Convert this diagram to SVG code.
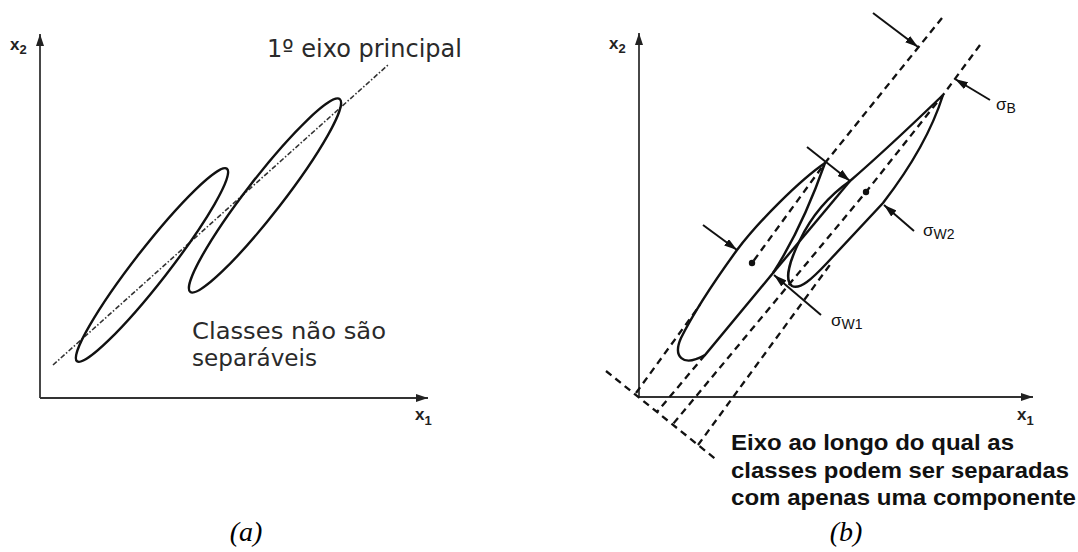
<svg xmlns="http://www.w3.org/2000/svg" width="1078" height="552" viewBox="0 0 1078 552">
<defs>
<style>
.ax{stroke:#333;stroke-width:1.8;fill:none}
.el{stroke:#111;stroke-width:2.4;fill:none}
.dsa{stroke:#333;stroke-width:1.6;fill:none;stroke-dasharray:5 2 1.5 2}
.dsb{stroke:#111;stroke-width:2.3;fill:none;stroke-dasharray:7 5}
.arr{stroke:#111;stroke-width:2;fill:none}
.lbl{font-family:"Liberation Sans",Arial,sans-serif;font-weight:bold;fill:#222}
.sig{font-family:"Liberation Sans",Arial,sans-serif;fill:#111}
.txa{font-family:"DejaVu Sans",Verdana,sans-serif;fill:#2a2a2a;font-size:25px}
.txn{font-family:"DejaVu Sans",Verdana,sans-serif;fill:#2a2a2a;font-size:23px}
.txb{font-family:"Liberation Sans",Arial,sans-serif;font-weight:bold;fill:#111;font-size:22px}
.cap{font-family:"Liberation Serif","Times New Roman",serif;font-style:italic;font-size:28px;fill:#000}
</style>
<marker id="axh" viewBox="0 0 12 8" refX="12" refY="4" markerWidth="12" markerHeight="8" markerUnits="userSpaceOnUse" orient="auto"><path d="M0,0 L12,4 L0,8 z" fill="#222"/></marker>
<marker id="ah" viewBox="0 0 13 8" refX="13" refY="4" markerWidth="13" markerHeight="8" markerUnits="userSpaceOnUse" orient="auto"><path d="M0,0 L13,4 L0,8 z" fill="#111"/></marker>
</defs>
<rect width="1078" height="552" fill="#fff"/>

<g id="panel-a">
  <g id="axes-a">
    <line class="ax" x1="40" y1="398" x2="40" y2="34" marker-end="url(#axh)"/>
    <line class="ax" x1="40" y1="398" x2="428" y2="398" marker-end="url(#axh)"/>
    <text class="lbl" x="10" y="50" font-size="17">x<tspan font-size="13" dy="4">2</tspan></text>
    <text class="lbl" x="415" y="420" font-size="17">x<tspan font-size="13" dy="5">1</tspan></text>
  </g>
  <g id="principal-axis-a">
    <line class="dsa" x1="53" y1="365" x2="388" y2="65"/>
    <text class="txa" x="267" y="57" textLength="195" lengthAdjust="spacingAndGlyphs">1º eixo principal</text>
  </g>
  <g id="class1-a"><ellipse class="el" cx="152" cy="265" rx="122" ry="17" transform="rotate(-52.1 152 265)"/></g>
  <g id="class2-a"><ellipse class="el" cx="265" cy="195.5" rx="122" ry="18" transform="rotate(-52.2 265 195.5)"/></g>
  <g id="note-a">
    <text class="txn" x="192" y="339" textLength="194" lengthAdjust="spacingAndGlyphs">Classes não são</text>
    <text class="txn" x="192" y="366" textLength="125" lengthAdjust="spacingAndGlyphs">separáveis</text>
  </g>
  <text class="cap" x="246" y="541" text-anchor="middle">(a)</text>
</g>

<g id="panel-b">
  <g id="axes-b">
    <line class="ax" x1="639" y1="397" x2="639" y2="33" marker-end="url(#axh)"/>
    <line class="ax" x1="639" y1="397" x2="1033" y2="397" marker-end="url(#axh)"/>
    <text class="lbl" x="609" y="49" font-size="17">x<tspan font-size="13" dy="4">2</tspan></text>
    <text class="lbl" x="1017" y="420" font-size="17">x<tspan font-size="13" dy="5">1</tspan></text>
  </g>
  <g id="class1-b">
    <path class="el" d="M825,163 C800,180 758,222 737,250 C713,283 692,316 681,338 C673,356 682,368 705,355 L773,273 C793,242 812,200 825,163 Z"/>
    <circle cx="752" cy="263" r="3.2" fill="#111"/>
  </g>
  <g id="class2-b">
    <path class="el" d="M943,95 C932,130 910,168 883,203 L827,263 C812,279 800,290 792,286 C784,280 790,260 800,240 C812,215 830,195 850,181 C880,155 915,122 943,95 Z"/>
    <line class="el" x1="850" y1="181" x2="773" y2="273"/>
    <circle cx="866" cy="192" r="3.2" fill="#111"/>
  </g>
  <g id="projections-b">
    <line class="dsb" x1="606" y1="371" x2="718" y2="461"/>
    <polyline class="dsb" points="942,18 825,163 752,263"/>
    <polyline class="dsb" points="980,45 943,95 866,192 673,424"/>
    <line class="dsb" x1="636" y1="393" x2="700" y2="305"/>
    <line class="dsb" x1="705" y1="355" x2="657" y2="412"/>
    <line class="dsb" x1="698" y1="445" x2="832" y2="262"/>
  </g>
  <g id="connectors">
    <line class="arr" x1="873" y1="13" x2="918" y2="47" marker-end="url(#ah)"/>
    <line class="arr" x1="990" y1="100" x2="955" y2="79" marker-end="url(#ah)"/>
    <line class="arr" x1="807" y1="147" x2="850" y2="181" marker-end="url(#ah)"/>
    <line class="arr" x1="914" y1="231" x2="884" y2="205" marker-end="url(#ah)"/>
    <line class="arr" x1="703" y1="225" x2="737" y2="250" marker-end="url(#ah)"/>
    <line class="arr" x1="821" y1="315" x2="774" y2="275" marker-end="url(#ah)"/>
  </g>
  <g id="labels-b">
    <text class="sig" x="996" y="110" font-size="17">σ<tspan font-size="14" dy="3">B</tspan></text>
    <text class="sig" x="923" y="236" font-size="17">σ<tspan font-size="14" dy="3">W2</tspan></text>
    <text class="sig" x="831" y="326" font-size="17">σ<tspan font-size="14" dy="3">W1</tspan></text>
  </g>
  <g id="note-b">
    <text class="txb" x="731" y="450" textLength="283" lengthAdjust="spacingAndGlyphs">Eixo ao longo do qual as</text>
    <text class="txb" x="731" y="478" textLength="338" lengthAdjust="spacingAndGlyphs">classes podem ser separadas</text>
    <text class="txb" x="731" y="505" textLength="345" lengthAdjust="spacingAndGlyphs">com apenas uma componente</text>
  </g>
  <text class="cap" x="846" y="541" text-anchor="middle">(b)</text>
</g>
</svg>
